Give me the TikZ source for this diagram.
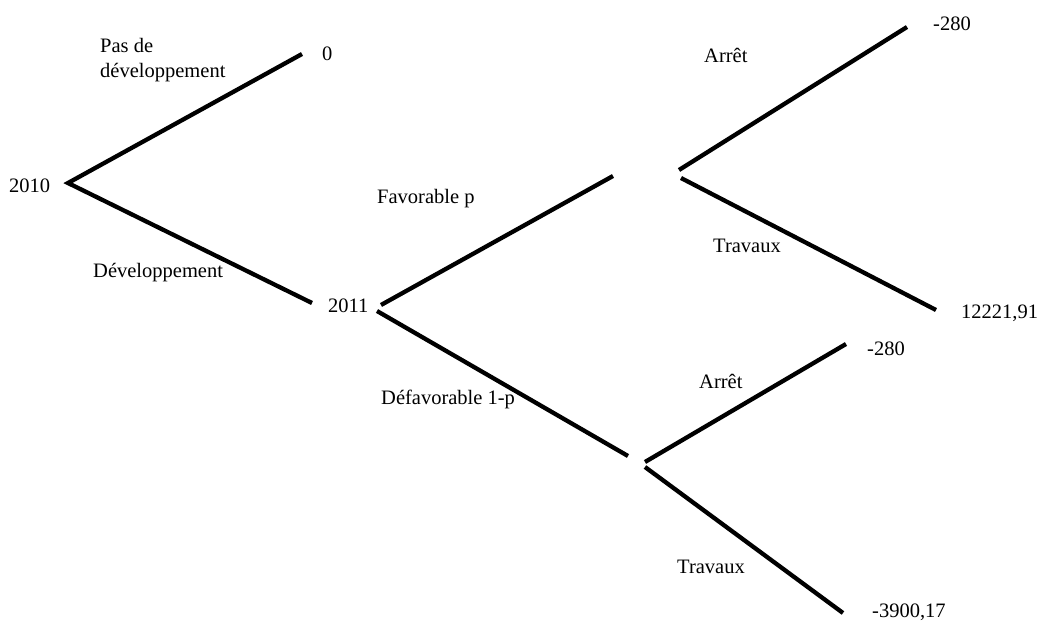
\documentclass[tikz,border=0pt]{standalone}
\usepackage{fontspec}
\setmainfont{Liberation Serif}
\begin{document}
\begin{tikzpicture}[x=1pt,y=-1pt,
  branch/.style={line width=4.3pt,line cap=butt},
  lbl/.style={anchor=base west,inner sep=0pt,font=\fontsize{20.5}{24}\selectfont}]
\useasboundingbox[fill=white] (0,0) rectangle (1045,624);
% coordinates of branch ends
\coordinate (r) at (68,183);
\coordinate (rb) at (68,184);
\coordinate (e0) at (302,54);
\coordinate (n1) at (312,303);
\coordinate (v1) at (381,305);
\coordinate (v1b) at (377,311);
\coordinate (fav) at (613,176);
\coordinate (def) at (628,456);
\coordinate (d1) at (679,170);
\coordinate (d1b) at (681,178);
\coordinate (e1) at (907,27);
\coordinate (e2) at (936,310);
\coordinate (d2) at (645,462);
\coordinate (d2b) at (645,467);
\coordinate (e3) at (846,344);
\coordinate (e4) at (843,613);
% branches
\draw[branch] (e0) -- (r) -- (n1);
\draw[branch] (v1) -- (fav);
\draw[branch] (v1b) -- (def);
\draw[branch] (d1) -- (e1);
\draw[branch] (d1b) -- (e2);
\draw[branch] (d2) -- (e3);
\draw[branch] (d2b) -- (e4);
% labels
\node[lbl] (t2010) at (9,192) {2010};
\node[lbl] (tpas) at (100,52) {Pas de};
\node[lbl] (tdev0) at (100,77) {développement};
\node[lbl] (t0) at (322,60) {0};
\node[lbl] (tdev) at (93,277) {Développement};
\node[lbl] (t2011) at (328,312) {2011};
\node[lbl] (tfav) at (377,203) {Favorable p};
\node[lbl] (tdef) at (381,404) {Défavorable 1-p};
\node[lbl] (m1) at (933,30) {-280};
\node[lbl] (a1) at (704,62) {Arrêt};
\node[lbl] (w1) at (713,252) {Travaux};
\node[lbl] (v12221) at (961,318) {12221,91};
\node[lbl] (m2) at (867,355) {-280};
\node[lbl] (a2) at (699,388) {Arrêt};
\node[lbl] (w2) at (677,573) {Travaux};
\node[lbl] (m3900) at (872,617) {-3900,17};
\end{tikzpicture}
\end{document}
